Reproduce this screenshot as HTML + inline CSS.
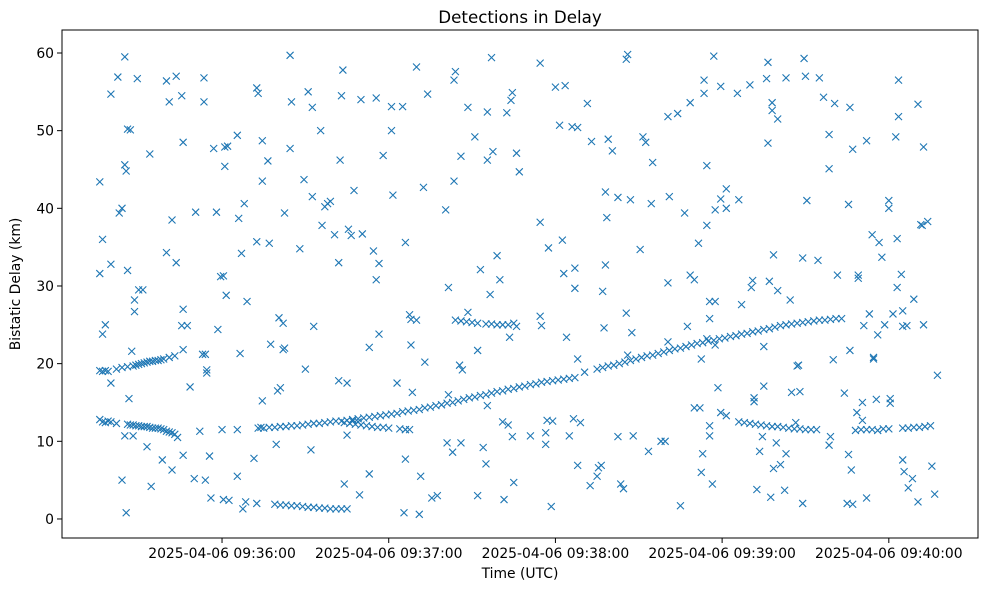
<!DOCTYPE html>
<html><head><meta charset="utf-8"><style>
body{margin:0;background:#fff;}
svg text{font-family:"DejaVu Sans","Liberation Sans",sans-serif;fill:#000;}
</style></head><body>
<svg id="chart" width="989" height="590" viewBox="0 0 989 590" xmlns="http://www.w3.org/2000/svg">
<rect width="989" height="590" fill="#fff"/>
<text x="520" y="23" font-size="16.7" text-anchor="middle">Detections in Delay</text>
<text x="520" y="578" font-size="13.9" text-anchor="middle">Time (UTC)</text>
<text transform="translate(20,284) rotate(-90)" font-size="13.9" text-anchor="middle">Bistatic Delay (km)</text>
<g id="marks"></g>
<g id="axes"></g>
<rect x="62" y="30" width="916" height="508" fill="none" stroke="#000" stroke-width="1"/>
</svg>
<script>
// times are seconds after 2025-04-06 09:35:00 UTC
const trackTimes = [16,17,18,19,22,24,26,28,29,30,31,32,33,34,35,36,37,38,39,41,43,
16,17,18,19,20,22,26,27,28,29,30,31,32,33,34,35,36,37,38,39,40,41,42,43,
73,75,77,79,81,83,85,87,89,91,93,95,97,99,101,103,105,107,109,111,113,115,117,119,121,123,125,127,129,131,133,135,137,139,141,143,145,147,149,151,153,155,157,159,161,163,165,167,169,171,173,175,177,179,181,183,185,187,195,197,199,201,203,205,207,209,211,213,215,217,219,221,223,225,227,229,231,233,235,237,239,241,243,245,247,249,251,253,255,257,259,261,263,265,267,269,271,273,275,277,279,281,283,285,287,
79,81,83,85,87,89,91,93,95,97,99,101,103,105,107,109,
104,106,108,110,112,114,116,118,120,124,126,128,130,
144,146,148,150,152,155,157,159,161,163,165,166,175,177,179,
246,248,250,252,254,256,258,260,262,264,266,268,270,272,274,
288,290,292,294,296,298,300,305,307,309,311,313,315,317,319];
const trackDelays = [19.1,19,19.1,19,19.3,19.5,19.6,19.7,19.8,19.9,20,20.1,20.2,20.3,20.3,20.4,20.4,20.5,20.6,20.8,21,
12.8,12.5,12.4,12.6,12.5,12.3,12.2,12.1,12.1,12,12,11.9,11.9,11.9,11.8,11.7,11.7,11.7,11.6,11.5,11.3,11.2,11.1,10.9,
11.7,11.7,11.8,11.8,11.9,11.9,12,12,12.1,12.2,12.3,12.3,12.4,12.5,12.6,12.6,12.7,12.8,12.9,13,13.1,13.2,13.3,13.4,13.5,13.6,13.8,13.9,14,14.1,14.3,14.4,14.6,14.7,14.9,15,15.2,15.4,15.6,15.7,15.9,16,16.2,16.4,16.5,16.7,16.8,17,17.1,17.3,17.4,17.6,17.7,17.8,17.9,18,18.1,18.2,19.3,19.5,19.7,19.8,20,20.2,20.4,20.6,20.8,21,21.1,21.3,21.5,21.7,21.9,22,22.2,22.4,22.6,22.7,22.9,23,23.2,23.3,23.5,23.6,23.8,23.9,24.1,24.2,24.4,24.5,24.7,24.9,25,25.1,25.2,25.3,25.4,25.5,25.6,25.6,25.7,25.8,25.8,
2,1.9,1.9,1.8,1.8,1.7,1.7,1.6,1.5,1.5,1.4,1.4,1.3,1.3,1.3,1.3,
12.6,12.5,12.4,12.3,12.2,12.1,12,11.9,11.8,11.8,11.7,11.6,11.5,
25.7,25.6,25.6,25.5,25.4,25.3,25.2,25.1,25.1,25,25,25,25.2,24.8,24.9,
12.7,12.6,12.5,12.4,12.3,12.2,12.1,12,11.9,11.9,11.8,11.7,11.6,11.6,11.5,
11.5,11.5,11.4,11.5,11.5,11.5,11.4,11.6,11.6,11.7,11.7,11.8,11.8,11.9,12];
const noiseTimes = [16,16,17,18,17,20,20,20,22.5,25,23,24,25,25.5,26,27,26,28.5,29.5,31.5,34,24,25.5,25,28,26.5,27.5,28.5,30,33,34.5,38.5,40,41,43.5,45.5,40,42,43.5,46,46,45.5,47.5,46,42,44,46,48.5,50,52,53,54,54.5,54.5,54,56,55.5,50.5,53.5,53.5,57,58,61,62,61,59.5,60.5,61.5,58.5,60,60.5,62.5,65.5,65.5,66.5,65.5,67,68,69,66,67.5,68.5,72.5,73,74.5,74.5,72.5,76.5,77,74.5,74,72.5,71.5,77.5,79.5,80,81,80.5,82,82,82.5,82.5,84.5,85,84.5,88,89.5,90,91,92.5,93,95.5,92.5,96,97,99,98,100.5,92,102,102,102.5,103,103.5,105.5,106.5,107.5,105,105,104,109.5,110,110.5,113,113,114.5,115.5,116.5,115.5,116.5,118,121,121,121.5,123,125,126,126,125.5,126,127.5,128,127.5,128.5,130,131,131.5,132.5,134,133,135.5,137.5,140.5,141,141.5,141.5,143,143.5,144,143.5,146,146,145.5,146.5,148.5,148.5,151,153,152,152,154,155,155.5,155.5,156.5,155.5,157,157.5,159,160,161.5,162.5,164,164.5,164.5,166,167,165,163.5,161,163,171,174.5,174.5,174.5,176.5,176.5,177.5,178.5,180,181.5,182.5,183,183.5,184,185,186,187,187,188,188,188,186.5,189,190.5,191.5,193,192.5,195,195.5,196.5,197,198,197.5,198,198.5,199,200.5,202.5,202.5,203.5,204.5,205.5,206,205.5,206,207,207.5,208,210.5,211.5,212.5,213.5,215,214.5,218,219.5,220.5,220.5,221,220.5,224,225,226.5,227.5,228.5,228.5,230,230,232,231.5,232.5,232.5,233,233.5,233.5,234.5,234.5,234.5,235.5,235.5,235.5,235.5,237.5,236.5,237,237.5,237.5,238.5,239.5,239.5,239.5,241.5,241.5,241.5,245.5,246,247,250,250.5,251,251.5,251.5,252.5,253.5,254.5,255,255,256,256.5,256.5,257,257.5,258,258,258.5,258.5,260,259.5,260,261,262.5,263,263,264.5,265,266.5,267,267.5,268,269,269,269.5,270,270.5,274.5,275,276.5,278.5,278.5,279,278.5,280,280.5,281.5,284,285.5,286,286.5,285.5,286,287,288.5,289,289,290.5,291,292,290.5,292,293,294,294.5,294.5,295.5,296,296.5,297.5,298.5,300,300,300.5,300.5,301.5,302.5,303,303,303.5,303.5,304.5,305,305,305,305.5,306.5,307,308.5,309,310.5,310.5,311.5,312,312.5,312.5,314,315.5,316.5,317.5];
const noiseDelays = [43.4,31.6,36,25,23.8,54.7,32.8,17.5,56.9,59.5,39.4,40,45.6,44.8,50.2,50.1,32,28.2,56.7,29.5,47,5,0.8,10.7,10.7,15.5,21.6,26.7,29.5,9.3,4.2,7.6,56.4,53.7,57,54.5,34.3,38.5,33,48.5,27,24.9,24.9,21.8,6.3,10.5,8.2,17,5.2,11.3,21.2,21.2,18.8,19.2,5,2.7,8.1,39.5,56.8,53.7,47.7,39.5,47.9,48,45.4,31.2,31.3,28.8,24.4,11.5,2.5,2.4,5.5,11.5,21.3,49.4,34.2,40.6,28,38.7,1.3,2.2,55.5,54.8,48.7,43.5,35.7,46.1,35.5,15.2,11.8,2,7.8,22.5,9.6,16.5,16.9,25.9,25.2,21.8,22,39.4,59.7,53.7,47.7,34.8,43.7,19.3,55,53,24.8,50,41.5,37.8,40.2,40.9,40.6,36.6,8.9,17.8,33,46.2,54.5,57.8,37.3,36.5,42.3,17.5,10.8,4.5,3.1,54,36.7,5.8,22.1,34.5,30.8,32.9,54.2,23.8,46.8,53.1,50,41.7,17.5,53.1,35.6,11.5,0.8,7.7,26.3,22.4,11.5,16.3,58.2,0.6,5.5,42.7,54.7,20.2,2.7,3,39.8,9.8,16,29.8,8.6,56.5,57.6,43.5,46.7,9.8,19.8,19.2,53,26.6,49.2,32.1,21.7,3,9.2,7.1,14.6,46.2,28.9,52.4,59.4,47.3,33.9,30.8,2.5,52.3,53.9,54.9,10.6,47.1,44.7,4.7,23.4,12.5,12.1,10.7,58.7,38.2,26.1,11.1,9.6,34.9,1.6,55.6,50.7,35.9,31.6,55.8,23.4,10.7,50.5,29.7,32.3,20.6,6.9,50.4,12.9,12.4,18.9,53.5,48.6,4.3,5.5,6.6,6.9,29.3,32.7,24.6,42.1,38.8,48.9,47.4,41.4,10.6,4.5,3.9,59.2,59.8,26.5,21.1,41.1,24,10.7,34.7,49.2,48.5,8.7,45.9,40.6,10,10,30.4,51.8,41.5,22.8,52.2,1.7,39.4,24.8,53.6,31.4,30.8,14.3,14.3,35.5,20.6,6,8.4,54.8,56.5,37.8,45.5,23.2,25.8,28,10.7,12,28,4.5,59.6,22.4,39.8,16.9,55.7,13.7,41.2,42.5,13.3,40,54.8,41.1,27.6,55.9,29.8,30.7,15.6,15.1,3.8,8.7,10.6,17.1,22.2,56.7,58.8,48.4,30.6,2.8,53.6,52.6,6.5,34,51.5,9.8,29.4,7,3.7,8.4,56.8,28.2,16.3,12.4,19.7,19.8,16.4,33.6,2,59.3,57,41,33.3,56.8,54.3,49.5,45.1,10.6,9.5,20.5,53.5,31.4,16.2,40.5,53,6.3,8.3,21.7,47.6,13.7,31.4,31,12.7,24.9,48.7,15,2.7,26.4,36.6,20.6,20.8,15.4,23.7,35.6,33.7,25,40,41,15.5,14.9,26.4,49.2,36.1,29.8,56.5,51.8,31.5,24.8,26.8,7.6,6.1,24.9,4,5.2,28.3,2.2,53.4,37.9,37.8,47.9,25,38.3,6.8,3.2,18.5];
const yTicks = [0,10,20,30,40,50,60];
const xTicks = [60,120,180,240,300];
const xTickLabels = ["2025-04-06 09:36:00","2025-04-06 09:37:00","2025-04-06 09:38:00","2025-04-06 09:39:00","2025-04-06 09:40:00"];

const X0=62,X1=978,Y0=538,Y1=30;
const xMin=2.4,xMax=332.1,yMin=-2.45,yMax=62.96;
function xs(t){return X0+(t-xMin)/(xMax-xMin)*(X1-X0);}
function ys(v){return Y0-(v-yMin)/(yMax-yMin)*(Y0-Y1);}
const NS="http://www.w3.org/2000/svg";
const marks=document.getElementById('marks');
const axes=document.getElementById('axes');
function drawX(t,v){
  const x=xs(t),y=ys(v),h=3.5;
  const p=document.createElementNS(NS,'path');
  p.setAttribute('d',`M${x-h},${y-h}L${x+h},${y+h}M${x-h},${y+h}L${x+h},${y-h}`);
  p.setAttribute('stroke','#1f77b4');p.setAttribute('stroke-width','1.1');p.setAttribute('fill','none');
  
  
  marks.appendChild(p);
}
trackTimes.forEach((t,i)=>drawX(t,trackDelays[i]));
noiseTimes.forEach((t,i)=>drawX(t,noiseDelays[i]));
yTicks.forEach(v=>{
  const y=ys(v);
  const l=document.createElementNS(NS,'line');
  l.setAttribute('x1',X0-5);l.setAttribute('x2',X0);l.setAttribute('y1',y);l.setAttribute('y2',y);l.setAttribute('stroke','#000');
  
  
  axes.appendChild(l);
  const tx=document.createElementNS(NS,'text');
  tx.setAttribute('x',X0-8);tx.setAttribute('y',y+5);tx.setAttribute('font-size','13.9');tx.setAttribute('text-anchor','end');
  tx.textContent=v;
  
  
  axes.appendChild(tx);
});
xTicks.forEach((t,i)=>{
  const x=xs(t);
  const l=document.createElementNS(NS,'line');
  l.setAttribute('x1',x);l.setAttribute('x2',x);l.setAttribute('y1',Y0);l.setAttribute('y2',Y0+5);l.setAttribute('stroke','#000');
  
  
  axes.appendChild(l);
  const tx=document.createElementNS(NS,'text');
  tx.setAttribute('x',x);tx.setAttribute('y',Y0+20);tx.setAttribute('font-size','13.9');tx.setAttribute('text-anchor','middle');
  tx.textContent=xTickLabels[i];
  
  
  axes.appendChild(tx);
});
</script>
</body></html>
